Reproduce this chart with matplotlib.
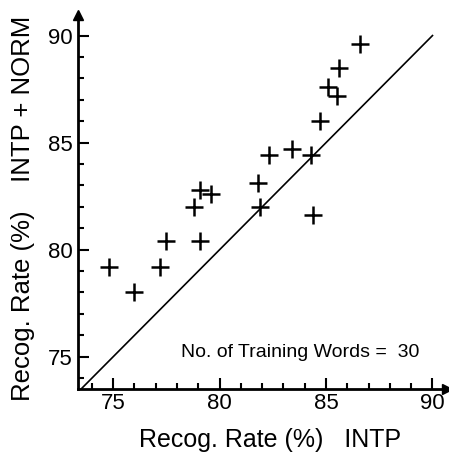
import numpy as np
import matplotlib
matplotlib.use("Agg")
import matplotlib.pyplot as plt

plt.rcParams['font.family'] = ['Liberation Sans', 'DejaVu Sans']

# recognition rates (%): INTP alone vs INTP + NORM
intp = [86.6, 85.6, 85.1, 85.5, 84.7, 83.4, 82.3, 84.3, 81.8,
        79.1, 79.6, 78.8, 81.9, 84.4, 77.5, 79.1, 74.8, 77.2, 76.0]
intp_norm = [89.6, 88.5, 87.6, 87.2, 86.0, 84.7, 84.4, 84.4, 83.1,
             82.8, 82.6, 82.0, 82.0, 81.6, 80.4, 80.4, 79.2, 79.2, 78.0]
diag = [73.4, 90.0]
ticks = [75, 80, 85, 90]

fig = plt.figure(figsize=(4.49, 4.55), dpi=100)
ax = fig.add_axes([0.1744, 0.145, 0.822, 0.822])

ax.plot(diag, diag, color='black', lw=1.2)
ax.plot(intp, intp_norm, '+', color='black', ms=13, mew=1.8, linestyle='none')

ax.set_xlim(73.36, 90.7)
ax.set_ylim(73.49, 90.96)
ax.set_xticks(ticks)
ax.set_yticks(ticks)
ax.set_xticks(np.arange(74, 91, 1), minor=True)
ax.set_yticks(np.arange(74, 91, 1), minor=True)
ax.tick_params(which='major', direction='in', length=8, width=1.5, labelsize=16)
ax.tick_params(axis='x', which='major', pad=3)
ax.tick_params(axis='y', which='major', pad=4)
ax.tick_params(which='minor', direction='in', length=4, width=1.5)

for s in ['top', 'right']:
    ax.spines[s].set_visible(False)
for s in ['left', 'bottom']:
    ax.spines[s].set_linewidth(2)

# arrow heads at the ends of the axes
ax.plot([1], [0], marker='>', color='black', ms=7, transform=ax.transAxes, clip_on=False)
ax.plot([0], [1], marker='^', color='black', ms=7, transform=ax.transAxes, clip_on=False)

ax.set_xlabel('Recog. Rate (%)   INTP', fontsize=18)
ax.set_ylabel('Recog. Rate (%)    INTP + NORM', fontsize=18.5)
ax.xaxis.set_label_coords(0.52, -0.105)
ax.yaxis.set_label_coords(-0.118, 0.483)

ax.text(78.2, 75.2, 'No. of Training Words =  30', fontsize=14, va='center')

fig.savefig('out.png', dpi=100)
